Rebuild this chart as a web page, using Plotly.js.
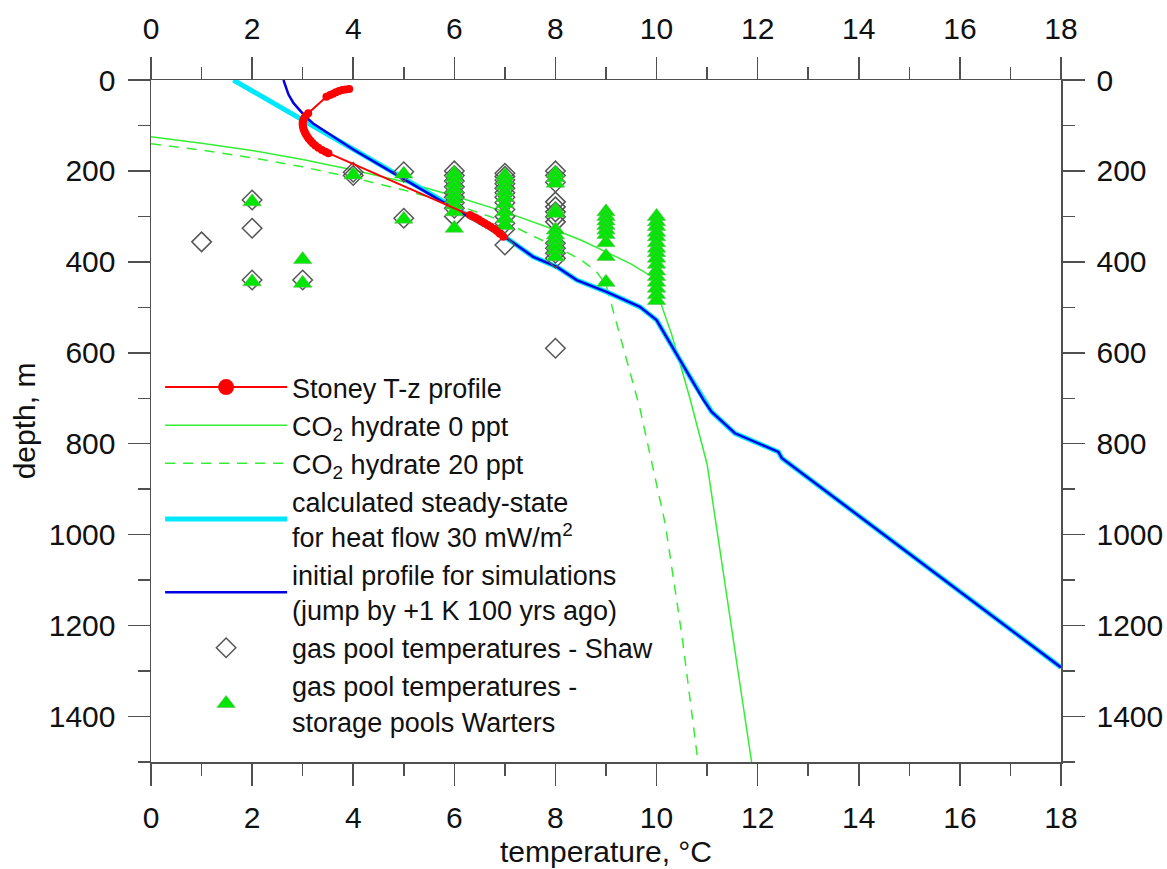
<!DOCTYPE html>
<html><head><meta charset="utf-8">
<script src="https://cdn.plot.ly/plotly-3.0.1.min.js"></script>
<style>html,body{margin:0;padding:0;background:#fff}#chart{width:1167px;height:869px}</style>
</head><body><div id="chart"></div>
<script>
// Stoney T-z profile (temperature °C, depth m)
const stoneyT = [3.92, 3.85, 3.78, 3.72, 3.66, 3.60, 3.54, 3.47, 3.11, 3.06, 3.03, 3.01, 3.00, 3.00, 3.01, 3.02, 3.04, 3.06, 3.09, 3.12, 3.16, 3.20, 3.25, 3.31, 3.38, 3.45, 3.51, 6.31, 6.36, 6.42, 6.48, 6.54, 6.60, 6.66, 6.72, 6.78, 6.84, 6.90, 6.97];
const stoneyZ = [20, 21, 22, 24, 27, 30, 33, 37, 73, 79, 84, 89, 94, 99, 104, 109, 114, 119, 124, 129, 134, 139, 144, 149, 154, 158, 161, 297, 300, 303, 307, 311, 315, 319, 323, 327, 332, 338, 345];

// CO2 hydrate stability, 0 ppt
const hyd0T = [0, 1, 2, 3, 4, 5, 6, 7, 8, 8.5, 9, 9.5, 9.9, 10.3, 10.66, 11.0, 11.88];
const hyd0Z = [125, 139, 155, 175, 198, 224, 255, 290, 330, 352, 378, 405, 432, 560, 700, 845, 1500];

// CO2 hydrate stability, 20 ppt
const hyd20T = [0, 1, 2, 3, 4, 5, 6, 7, 7.5, 8, 8.5, 8.8, 9.0, 9.48, 9.67, 10.17, 10.5, 10.82];
const hyd20Z = [140, 154, 171, 191, 215, 242, 273, 312, 340, 366, 395, 420, 450, 645, 722, 975, 1220, 1500];

// calculated steady-state, heat flow 30 mW/m2
const steadyT = [1.63, 3.0, 4.0, 5.0, 6.0, 7.0, 7.56, 8.03, 8.42, 9.01, 9.67, 10.0, 10.66, 10.93, 11.09, 11.55, 12.41, 12.48, 18.0];
const steadyZ = [0, 88, 153, 218, 283, 345, 389, 411, 440, 466, 499, 528, 653, 704, 730, 777, 818, 832, 1292];

// initial profile for simulations
const initT = [2.62, 2.66, 2.72, 2.82, 2.92, 3.02, 3.2, 4.0, 5.0, 6.0, 7.0, 7.56, 8.03, 8.42, 9.01, 9.67, 10.0, 10.66, 10.93, 11.09, 11.55, 12.41, 12.48, 18.0];
const initZ = [0, 15, 32, 51, 64, 76, 95, 153, 218, 283, 345, 389, 411, 440, 466, 499, 528, 653, 704, 730, 777, 818, 832, 1292];

// gas pool temperatures - Shaw
const shawT = [1, 2, 2, 2, 3, 4, 4, 5, 5, 6, 6, 6, 6, 6, 6, 6, 6, 6, 7, 7, 7, 7, 7, 7, 7, 7, 7, 7, 7, 7, 7, 8, 8, 8, 8, 8, 8, 8, 8, 8, 8, 8, 8, 8];
const shawZ = [356, 264, 326, 440, 440, 203, 210, 202, 304, 200, 210, 222, 235, 248, 258, 270, 282, 300, 205, 212, 220, 228, 238, 248, 258, 270, 285, 300, 315, 328, 363, 200, 210, 225, 268, 279, 290, 301, 312, 359, 370, 381, 392, 590];

// gas pool temperatures - storage pools Warters
const wartersT = [2, 2, 3, 3, 4, 5, 5, 6, 6, 6, 6, 6, 6, 6, 6, 6, 7, 7, 7, 7, 7, 7, 7, 7, 7, 8, 8, 8, 8, 8, 8, 8, 8, 8, 8, 8, 9, 9, 9, 9, 9, 9, 9, 9, 9, 10, 10, 10, 10, 10, 10, 10, 10, 10, 10, 10, 10, 10, 10, 10, 10];
const wartersZ = [268, 444, 395, 447, 209, 207, 306, 205, 215, 228, 240, 252, 262, 275, 290, 326, 210, 220, 232, 245, 258, 272, 290, 305, 320, 205, 215, 227, 286, 293, 330, 341, 352, 363, 374, 389, 290, 300, 310, 320, 330, 340, 358, 388, 445, 300, 312, 322, 335, 345, 358, 370, 380, 392, 405, 420, 432, 445, 458, 472, 485];

const legendNames = [
  'Stoney T-z profile',
  'CO<sub>2</sub> hydrate 0 ppt',
  'CO<sub>2</sub> hydrate 20 ppt',
  'calculated steady-state<br>for heat flow 30 mW/m<sup>2</sup>',
  'initial profile for simulations<br>(jump by +1 K 100 yrs ago)',
  'gas pool temperatures - Shaw',
  'gas pool temperatures -<br>storage pools Warters'
];

const red = '#ff0000', green = '#33ee33', cyan = '#00e8ff', blue = '#0000e6';
const FONT = 'Liberation Sans, Arial, sans-serif';

const traces = [
  {x: hyd0T, y: hyd0Z, mode: 'lines', name: legendNames[1], legendrank: 2,
   line: {color: green, width: 1.5}},
  {x: hyd20T, y: hyd20Z, mode: 'lines', name: legendNames[2], legendrank: 3,
   line: {color: green, width: 1.5, dash: '10px,8px'}},
  {x: steadyT, y: steadyZ, mode: 'lines', name: legendNames[3], legendrank: 4,
   line: {color: cyan, width: 5}},
  {x: initT, y: initZ, mode: 'lines', name: legendNames[4], legendrank: 5,
   line: {color: blue, width: 2.5}},
  {x: shawT, y: shawZ, mode: 'markers', name: legendNames[5], legendrank: 6,
   marker: {symbol: 'diamond-open', size: 15, color: '#555', line: {color: '#555', width: 1.5}}},
  {x: wartersT, y: wartersZ, mode: 'markers', name: legendNames[6], legendrank: 7,
   marker: {symbol: 'triangle-up', size: 16, color: '#00e600', line: {color: '#66bb66', width: 0.6}}},
  {x: stoneyT, y: stoneyZ, mode: 'lines+markers', showlegend: false,
   line: {color: red, width: 2}, marker: {color: red, size: 8}},
  {x: [null], y: [null], mode: 'lines+markers', name: legendNames[0], legendrank: 1,
   line: {color: red, width: 2}, marker: {color: red, size: 16}},
  {x: [null], y: [null], xaxis: 'x2', yaxis: 'y2', mode: 'markers', showlegend: false, hoverinfo: 'skip'}
];

const axisCol = '#505050';
const tickFont = {family: FONT, size: 30, color: '#111'};
function ax(extra, dt, mdt) {
  return Object.assign({
    showgrid: false, zeroline: false, showline: true, linecolor: axisCol, linewidth: 1.5,
    ticks: 'outside', ticklen: 22, tickwidth: 1.5, tickcolor: axisCol, tickfont: tickFont,
    dtick: dt, tick0: 0, ticklabelstandoff: 6,
    minor: {ticks: 'outside', ticklen: 12, tickwidth: 1.5, tickcolor: axisCol, dtick: mdt, tick0: 0}
  }, extra);
}

const layout = {
  width: 1167, height: 869,
  margin: {l: 151, r: 106, t: 80, b: 107},
  paper_bgcolor: '#fff', plot_bgcolor: '#fff',
  font: {family: FONT, color: '#111'},
  showlegend: true,
  legend: {x: 0.01, y: 0.585, xanchor: 'left', yanchor: 'top', bgcolor: 'rgba(0,0,0,0)',
           font: {family: FONT, size: 27, color: '#111'}, itemwidth: 122, tracegroupgap: 0,
           traceorder: 'normal'},
  xaxis: ax({range: [0, 18], side: 'bottom', anchor: 'y',
             title: {text: 'temperature, °C', font: {family: FONT, size: 30, color: '#111'}, standoff: 8}}, 2, 1),
  xaxis2: ax({range: [0, 18], side: 'top', overlaying: 'x', anchor: 'y'}, 2, 1),
  yaxis: ax({range: [1500, 0], side: 'left', anchor: 'x',
             title: {text: 'depth, m', font: {family: FONT, size: 30, color: '#111'}, standoff: 4}}, 200, 100),
  yaxis2: ax({range: [1500, 0], side: 'right', overlaying: 'y', anchor: 'x'}, 200, 100)
};

Plotly.newPlot('chart', traces, layout, {displayModeBar: false, staticPlot: true});
</script>
</body></html>
